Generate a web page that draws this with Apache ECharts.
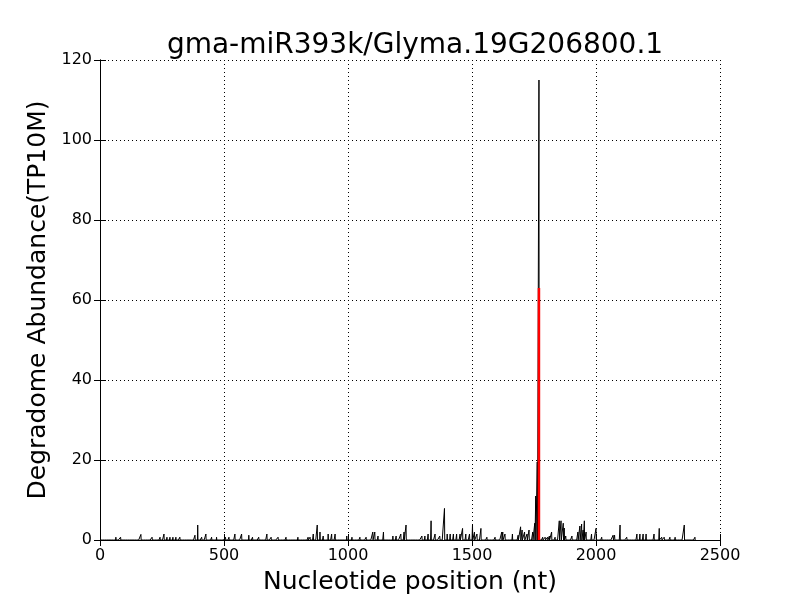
<!DOCTYPE html>
<html><head><meta charset="utf-8">
<script src="https://cdn.jsdelivr.net/npm/echarts@6/dist/echarts.min.js"></script>
<style>html,body{margin:0;padding:0;background:#fff}#c{width:800px;height:600px}</style>
</head><body><div id="c"></div>
<script>
const title = "gma-miR393k/Glyma.19G206800.1";
const xName = "Nucleotide position (nt)";
const yName = "Degradome Abundance(TP10M)";
const seqLength = 2400;
// sparse degradome peaks: positions and abundance (TP10M)
const peakPos = [64,83,165,210,242,258,270,282,294,306,322,383,394,410,427,450,470,506,520,544,571,600,615,640,673,690,718,750,798,839,
  847,860,876,887,900,920,934,948,995,1016,1048,1073,1100,1108,1121,1143,1181,1194,1213,1226,1234,1298,1310,1323,1335,1351,1370,1389,
  1400,1412,1425,1438,1452,1462,1475,1490,1502,1510,1520,1536,1560,1593,1624,1633,1620,1663,1686,1696,1702,1712,1722,1730,1745,1753,1757,1763,1770,
  1785,1795,1805,1812,1821,1835,1852,1859,1868,1872,1878,1903,1927,1935,1942,1948,1953,1960,1982,2000,2023,2069,2075,2097,2124,2165,2177,2190,2202,2234,2255,2265,2275,2298,2319,2356,2399];
const peakVal = [0.7,0.7,1.4,0.7,0.7,1.5,0.7,0.7,0.7,0.7,0.7,1.2,3.75,0.7,1.5,0.7,0.7,0.7,0.7,1.5,1.5,1.2,0.7,0.7,1.5,0.7,0.7,0.7,0.7,0.7,
  0.7,1.5,3.75,2,1,1.5,1.5,1.5,1,0.7,0.7,0.7,2,2,1,2,1,1,1.5,2,3.75,1,1,1.5,4.8,1.5,1,7.9,
  1.5,1.5,1.5,1.5,1.5,2.9,1.5,1.5,3.75,2,1.5,2.9,0.7,0.7,2,1.5,2,1.5,1.2,3.3,2.5,2,1.5,2.5,2,4.2,11,19.5,115,
  0.7,0.7,0.7,1,2,0.7,4.8,4.8,4.2,3,1,1,2,3.5,4,2.5,4.8,2,1.5,2.9,0.7,1.2,1.2,3.75,0.7,1.5,1.5,1.5,1.5,1.5,2.9,0.7,0.7,0.7,0.7,3.75,0.7];
const cleavagePos = 1770;
const cleavageVal = 63;

const vals = new Array(seqLength + 1).fill(0);
peakPos.forEach((p, i) => { vals[p] = Math.max(vals[p], peakVal[i]); });
const lineData = vals.map((v, i) => [i, v]);

const chart = echarts.init(document.getElementById('c'));
const font = 'DejaVu Sans';
const gridLine = {show: true, lineStyle: {color: '#000', type: [1, 3], width: 1}};
const tick = {show: true, inside: true, length: 6, lineStyle: {color: '#000'}};
const axLine = {show: true, lineStyle: {color: '#000', width: 1}};
chart.setOption({
  animation: false,
  title: {text: title, left: 410, textAlign: 'center', top: 27,
    textStyle: {fontFamily: font, fontSize: 28, fontWeight: 'normal', color: '#000'}},
  grid: {left: 100, right: 80, top: 60, bottom: 60, show: false},
  xAxis: [{type: 'value', min: 0, max: 2500, interval: 500, name: xName, nameLocation: 'middle', nameGap: 30,
    nameTextStyle: {fontFamily: font, fontSize: 25, color: '#000'},
    axisLine: axLine, axisTick: tick,
    axisLabel: {fontFamily: font, fontSize: 16, color: '#000', margin: 8, formatter: v => String(v)},
    splitLine: gridLine},
    {type: 'value', min: 0, max: 2500, interval: 500, position: 'top',
    axisLine: axLine, axisTick: tick, axisLabel: {show: false}, splitLine: {show: false}}],
  yAxis: [{type: 'value', min: 0, max: 120, interval: 20, name: yName, nameLocation: 'middle', nameGap: 46,
    nameTextStyle: {fontFamily: font, fontSize: 25, color: '#000'},
    axisLine: axLine, axisTick: tick,
    axisLabel: {fontFamily: font, fontSize: 16, color: '#000', margin: 8, formatter: v => String(v)},
    splitLine: gridLine},
    {type: 'value', min: 0, max: 120, interval: 20, position: 'right',
    axisLine: axLine, axisTick: tick, axisLabel: {show: false}, splitLine: {show: false}}],
  series: [
    {type: 'line', data: lineData, showSymbol: false, symbol: 'none', lineStyle: {color: '#000', width: 1}, silent: true},
    {type: 'line', data: [[cleavagePos, 0], [cleavagePos, cleavageVal]], symbol: 'none', lineStyle: {color: '#ff0000', width: 2.5}, silent: true}
  ]
});
</script></body></html>
